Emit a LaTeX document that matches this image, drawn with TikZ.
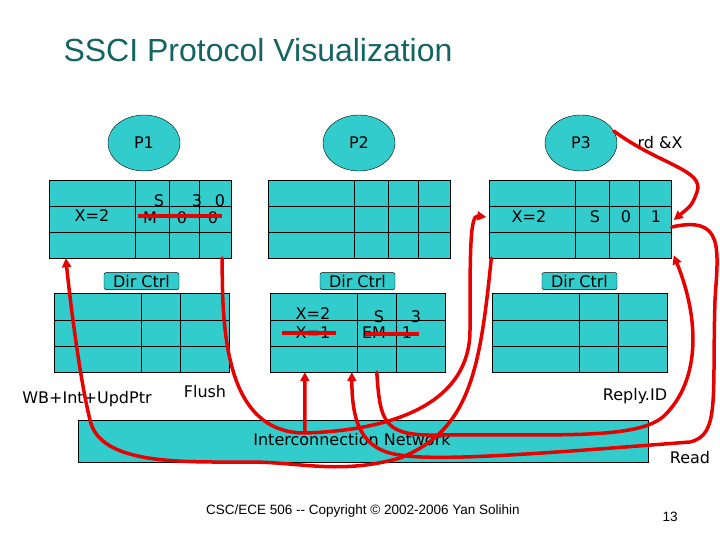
\documentclass[tikz,border=0pt]{standalone}
\usepackage{fontspec}
\setmainfont{DejaVu Sans}
\newfontfamily\titlefont{Liberation Sans}
\usetikzlibrary{arrows.meta,calc,positioning,shapes.geometric}
\definecolor{ssci-teal}{RGB}{51,204,204}
\definecolor{ssci-title}{RGB}{20,100,100}
\definecolor{ssci-red}{RGB}{230,0,0}
\tikzset{
  cachebox/.style={draw, fill=ssci-teal, minimum width=182pt, minimum height=78pt, inner sep=0pt},
  dirbox/.style={draw, fill=ssci-teal, minimum width=175pt, minimum height=79pt, inner sep=0pt},
  proc/.style={draw, fill=ssci-teal, ellipse, minimum width=72pt, minimum height=56pt, inner sep=0pt, font=\fontsize{16}{18}\selectfont},
  dirctrl/.style={draw, fill=ssci-teal, rounded corners=2pt, minimum width=75pt, minimum height=17pt, inner sep=0pt, font=\fontsize{16}{18}\selectfont},
  lbl/.style={font=\fontsize{16}{18}\selectfont, inner sep=0pt},
  msg/.style={ssci-red, line width=3.5pt, line cap=round},
  tip/.style={-{Triangle[length=9pt,width=9pt]}},
  strike/.style={ssci-red, line width=3.5pt}
}
\begin{document}
\begin{tikzpicture}[x=1pt, y=-1pt]
  \useasboundingbox (0,0) rectangle (720,540);
  % title and footer
  \node[anchor=west, text=ssci-title, font=\titlefont\fontsize{32}{36}\selectfont] (title) at (60,50) {SSCI Protocol Visualization};
  \node[font=\titlefont\fontsize{13.5}{15}\selectfont] (foot) at (363,511) {CSC/ECE 506 -- Copyright © 2002-2006 Yan Solihin};
  \node[font=\titlefont\fontsize{13.5}{15}\selectfont] (page) at (670,517) {13};
  % processors
  \node[proc] (p1) at (144,143) {P1};
  \node[proc] (p2) at (359,143) {P2};
  \node[proc] (p3) at (581,143) {P3};
  % caches
  \node[cachebox] (c1) at (140,219) {};
  \node[cachebox] (c2) at (359,219) {};
  \node[cachebox] (c3) at (580.5,219) {};
  % directories
  \node[dirbox] (d1) at (141.5,332.5) {};
  \node[dirbox] (d2) at (357.5,332.5) {};
  \node[dirbox] (d3) at (579.5,332.5) {};
  \foreach \n in {1,2,3} {
    \foreach \cx in {86,120,150}
      \draw ($(c\n.north west)+(\cx,0)$) -- ($(c\n.south west)+(\cx,0)$);
    \foreach \cy in {26,52}
      \draw ($(c\n.north west)+(0,\cy)$) -- ($(c\n.north east)+(0,\cy)$);
    \foreach \cx in {87,126}
      \draw ($(d\n.north west)+(\cx,0)$) -- ($(d\n.south west)+(\cx,0)$);
    \foreach \cy in {27,53}
      \draw ($(d\n.north west)+(0,\cy)$) -- ($(d\n.north east)+(0,\cy)$);
    \node[dirctrl, above=3pt of d\n.north] (dc\n) {Dir Ctrl};
  }
  % interconnect
  \node[draw, fill=ssci-teal, minimum width=570pt, minimum height=42pt, inner sep=0pt] (net) at (363,441) {};
  \node[lbl] (netlbl) at (352,440) {Interconnection Network};
  % cache contents
  \node[lbl] at (92,216) {X=2};
  \node[lbl] at (159,201) {S};
  \node[lbl] at (197,201) {3};
  \node[lbl] at (220,201) {0};
  \node[lbl] at (150,218) {M};
  \node[lbl] at (182,218) {0};
  \node[lbl] at (213,218) {0};
  \draw[strike] (138,216) -- (222,216);
  \node[lbl] at (529,217) {X=2};
  \node[lbl] at (595,217) {S};
  \node[lbl] at (626,217) {0};
  \node[lbl] at (656,217) {1};
  % directory contents
  \node[lbl] at (313,314) {X=2};
  \node[lbl] at (313,333) {X=1};
  \draw[strike] (282,333) -- (336,333);
  \node[lbl] at (379,317) {S};
  \node[lbl] at (416,317) {3};
  \node[lbl] at (374,333) {EM};
  \node[lbl] at (407,333) {1};
  \draw[strike] (365,334) -- (419,334);
  % message labels
  \node[lbl] (wb) at (87,399) {WB+Int+UpdPtr};
  \node[lbl] (flush) at (205,392) {Flush};
  \node[lbl] (reply) at (635,396) {Reply.ID};
  \node[lbl] (read) at (690,458) {Read};
  \node[lbl] (rdx) at (660,143) {rd \&X};
  % messages
  \coordinate (hub) at (305,433);
  \draw[msg, tip] (p3.20) .. controls (660,165) and (705,170) .. (697,192)
    .. controls (692,205) .. ($(c3.east)+(2,1)$);
  \draw[msg, tip] ($(c3.east)+(0,8)$) .. controls (725,215) and (718,250) .. (715,300)
    .. controls (712,400) and (720,435) .. (690,442)
    .. controls (560,452) and (440,462) .. (400,455)
    .. controls (360,450) and (352,420) .. ($(d2.south west)+(82,0)$);
  \draw[msg, tip] ($(d2.south west)+(107,0)$) .. controls (380,425) and (385,436) .. (440,435)
    .. controls (560,434) and (640,440) .. (665,415)
    .. controls (700,380) and (700,320) .. ($(c3.south east)+(2,-3)$);
  \draw[msg, tip] ($(c1.south east)+(-9,0)$) .. controls (222,330) and (225,433) .. (hub)
    .. controls (400,430) and (470,400) .. (470,330)
    .. controls (470,250) and (470,215) .. ($(c3.west)+(-3,-2)$);
  \draw[msg, tip] (hub) -- ($(d2.south west)+(35,0)$);
  \draw[msg, tip] ($(c3.south west)+(2,0)$) .. controls (480,370) and (470,430) .. (400,458)
    .. controls (340,475) and (300,462) .. (250,462)
    .. controls (180,462) and (100,465) .. (90,420)
    .. controls (80,380) and (70,300) .. ($(c1.south west)+(17,0)$);
\end{tikzpicture}
\end{document}
